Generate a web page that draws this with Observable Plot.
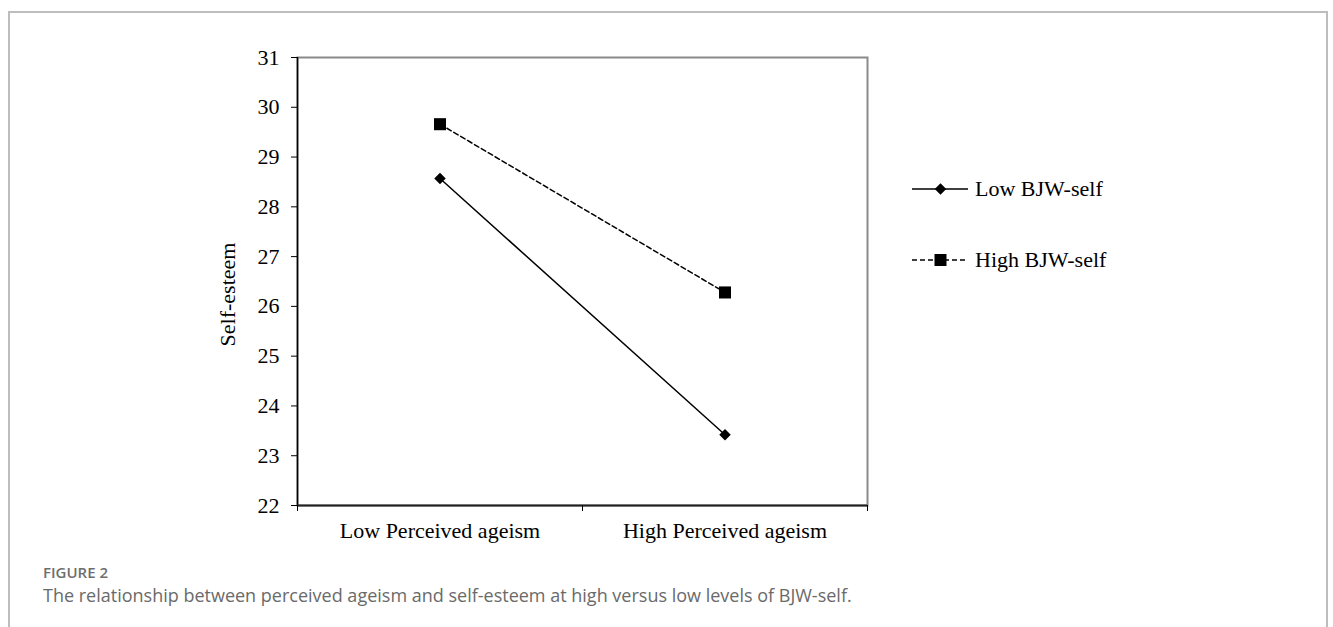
<!DOCTYPE html>
<html>
<head>
<meta charset="utf-8">
<script src="https://cdn.jsdelivr.net/npm/d3@7"></script>
<script src="https://cdn.jsdelivr.net/npm/@observablehq/plot@0.6"></script>
<style>
  html, body { margin: 0; padding: 0; background: #fff; }
  body { width: 1333px; height: 627px; position: relative; overflow: hidden; }
  #frame { position: absolute; left: 8px; top: 11px; width: 1320px; height: 700px;
           border: 2px solid #bdbdbd; border-bottom: none; box-sizing: border-box; }
  #chart { position: absolute; left: 0; top: 0; }
  #legend { position: absolute; left: 0; top: 0; }
  #figlabel { position: absolute; left: 43px; top: 562px; font-family: "Open Sans", sans-serif;
              font-weight: 600; font-size: 15px; color: #6e6e6e; letter-spacing: 0; }
  #caption { position: absolute; left: 43px; top: 583px; font-family: "Open Sans", sans-serif;
             font-size: 18px; color: #6a6a6a; white-space: nowrap; }
</style>
</head>
<body>
<div id="frame"></div>
<div id="chart"></div>
<svg id="legend" width="1333" height="400"></svg>
<div id="figlabel">FIGURE 2</div>
<div id="caption">The relationship between perceived ageism and self-esteem at high versus low levels of BJW-self.</div>
<script>
// ---- data ----
const categories = ["Low Perceived ageism", "High Perceived ageism"];
const seriesNames = ["Low BJW-self", "High BJW-self"];
const lowBJW = [28.57, 23.42];
const highBJW = [29.66, 26.28];
const yTicks = [22, 23, 24, 25, 26, 27, 28, 29, 30, 31];
const yLabel = "Self-esteem";

// category index -> centre of its slot on a linear x scale [0, n]
const lowData = categories.map((c, i) => ({pos: i + 0.5, value: lowBJW[i], series: seriesNames[0]}));
const highData = categories.map((c, i) => ({pos: i + 0.5, value: highBJW[i], series: seriesNames[1]}));
const boundaries = d3.range(categories.length + 1);
const centres = categories.map((c, i) => i + 0.5);

const serif = "'Liberation Serif', 'Times New Roman', serif";

const chart = Plot.plot({
  width: 1333,
  height: 545,
  marginLeft: 297,
  marginRight: 466,
  marginTop: 57,
  marginBottom: 40,
  style: {fontFamily: serif, fontSize: "22px", color: "#000", background: "transparent"},
  x: {type: "linear", domain: [0, categories.length]},
  y: {domain: [yTicks[0], yTicks[yTicks.length - 1]]},
  marks: [
    Plot.frame({stroke: "#8a8a8a", strokeWidth: 2}),
    Plot.ruleX([0], {stroke: "#000", strokeWidth: 1.5}),
    Plot.ruleY([yTicks[0]], {stroke: "#222", strokeWidth: 2}),
    Plot.axisY({ticks: yTicks, tickSize: 6, tickPadding: 12, label: null, fontSize: 22, stroke: "#000"}),
    Plot.axisX({ticks: boundaries, tickSize: 6, tickFormat: () => "", label: null, stroke: "#000"}),
    Plot.axisX({ticks: centres, tickSize: 0, tickPadding: 17, tickFormat: (d) => categories[Math.floor(d)], label: null, fontSize: 22}),
    Plot.text([yLabel], {frameAnchor: "left", textAnchor: "middle", text: (d) => d, rotate: -90, dx: -70, dy: 13, fontSize: 22, fill: "#000"}),
    Plot.line(highData, {x: "pos", y: "value", stroke: "#000", strokeWidth: 1.5, strokeDasharray: "5,3"}),
    Plot.line(lowData, {x: "pos", y: "value", stroke: "#000", strokeWidth: 1.5}),
    Plot.dot(highData, {x: "pos", y: "value", symbol: "square", r: 6.8, fill: "#000", stroke: "none"}),
    Plot.dot(lowData, {x: "pos", y: "value", symbol: "diamond2", r: 5.2, fill: "#000", stroke: "none"})
  ]
});
document.getElementById("chart").appendChild(chart);

// ---- legend ----
const legend = d3.select("#legend");
const items = [
  {name: seriesNames[0], y: 189, dash: null, symbol: d3.symbolDiamond2, size: Math.PI * 5.2 * 5.2},
  {name: seriesNames[1], y: 260, dash: "5,3", symbol: d3.symbolSquare, size: 144}
];
items.forEach((it) => {
  const g = legend.append("g");
  g.append("line").attr("x1", 912).attr("x2", 968).attr("y1", it.y).attr("y2", it.y)
    .attr("stroke", "#000").attr("stroke-width", 1.5)
    .attr("stroke-dasharray", it.dash);
  g.append("path").attr("d", d3.symbol(it.symbol, it.size)())
    .attr("transform", `translate(940.5,${it.y})`).attr("fill", "#000");
  g.append("text").attr("x", 975).attr("y", it.y + 7).text(it.name)
    .attr("font-family", serif).attr("font-size", 22).attr("fill", "#000");
});
</script>
</body>
</html>
